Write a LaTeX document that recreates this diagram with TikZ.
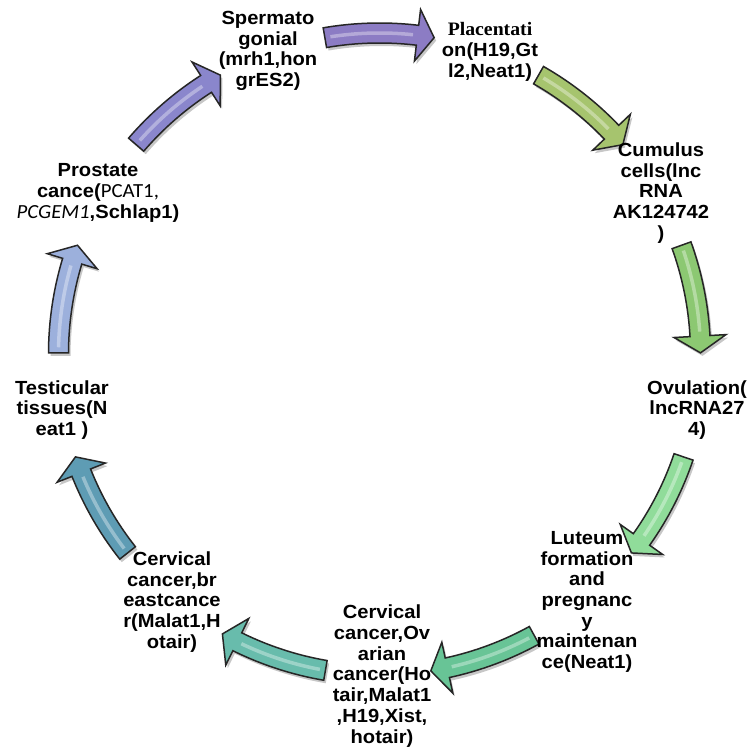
\documentclass[tikz,border=0pt]{standalone}
\usepackage{fontspec}
\setmainfont{Liberation Sans}[FakeStretch=1.06]
\newfontfamily\calib{Carlito}[FakeStretch=1.04]
\newfontfamily\serifb{Liberation Serif}[FakeStretch=1.04]
\definecolor{cA}{HTML}{8C7CC4}
\definecolor{cB}{HTML}{A6C46E}
\definecolor{cC}{HTML}{8CC872}
\definecolor{cD}{HTML}{90DC9A}
\definecolor{cE}{HTML}{68C496}
\definecolor{cF}{HTML}{68BCAC}
\definecolor{cG}{HTML}{5E9CB4}
\definecolor{cH}{HTML}{9CB0DC}
\definecolor{cI}{HTML}{8A86CC}
\newcommand\cycarrow[2]{%
  \pgfmathsetmacro\ta{#1+9.8}%
  \pgfmathsetmacro\hb{#1-6.8}%
  \pgfmathsetmacro\tp{#1-9.8}%
  \pgfmathsetmacro\hl{#1+8.8}%
  \pgfmathsetmacro\hm{#1-6}%
  \begin{scope}[shift={(379.5,397)}]
    \fill[black, opacity=.22, shift={(2,-3)}] (\ta:331) arc[start angle=\ta, end angle=\hb, radius=331] -- (\hb:347) -- (\tp:321) -- (\hb:295) -- (\hb:311) arc[start angle=\hb, end angle=\ta, radius=311] -- cycle;
    \filldraw[arrowline, fill=#2] (\ta:331) arc[start angle=\ta, end angle=\hb, radius=331] -- (\hb:347) -- (\tp:321) -- (\hb:295) -- (\hb:311) arc[start angle=\hb, end angle=\ta, radius=311] -- cycle;
    \draw[white, opacity=.35, line width=3.5] (\hl:321) arc[start angle=\hl, end angle=\hm, radius=321];
  \end{scope}}
\begin{document}
\begin{tikzpicture}[x=1pt,y=1pt,
  lbl/.style={align=center, inner sep=0pt, font=\fontsize{19}{20.7}\selectfont\bfseries},
  arrowline/.style={draw=black!85, line width=1.5pt, line join=miter}]
\path[use as bounding box, fill=white] (0,0) rectangle (748,751);
\cycarrow{90}{cA}
\cycarrow{50.5}{cB}
\cycarrow{10}{cC}
\cycarrow{-28.5}{cD}
\cycarrow{-71}{cE}
\cycarrow{-109.5}{cF}
\cycarrow{-151.5}{cG}
\cycarrow{170}{cH}
\cycarrow{129.5}{cI}
\node[lbl] (sperm) at (268,700) {Spermato\\gonial\\(mrh1,hon\\grES2)};
\node[lbl] (plac) at (490,699) {{\serifb\bfseries Placentati}\\on(H19,Gt\\l2,Neat1)};
\node[lbl] (cumu) at (661,558) {Cumulus\\cells(lnc\\RNA\\AK124742\\)};
\node[lbl] (ovul) at (697,341) {Ovulation(\\lncRNA27\\4)};
\node[lbl] (lute) at (587,149) {Luteum\\formation\\and\\pregnanc\\y\\maintenan\\ce(Neat1)};
\node[lbl] (cerov) at (382,75) {Cervical\\cancer,Ov\\arian\\cancer(Ho\\tair,Malat1\\,H19,Xist,\\hotair)};
\node[lbl] (cerbr) at (172,149) {Cervical\\cancer,br\\eastcance\\r(Malat1,H\\otair)};
\node[lbl] (test) at (62,341) {Testicular\\tissues(N\\eat1 )};
\node[lbl] (prost) at (98,558) {Prostate\\cance({\calib\mdseries\fontsize{20}{20.7}\selectfont PCAT1,}\\{\calib\mdseries\itshape\fontsize{20}{20.7}\selectfont PCGEM1},Schlap1)};
\end{tikzpicture}
\end{document}
